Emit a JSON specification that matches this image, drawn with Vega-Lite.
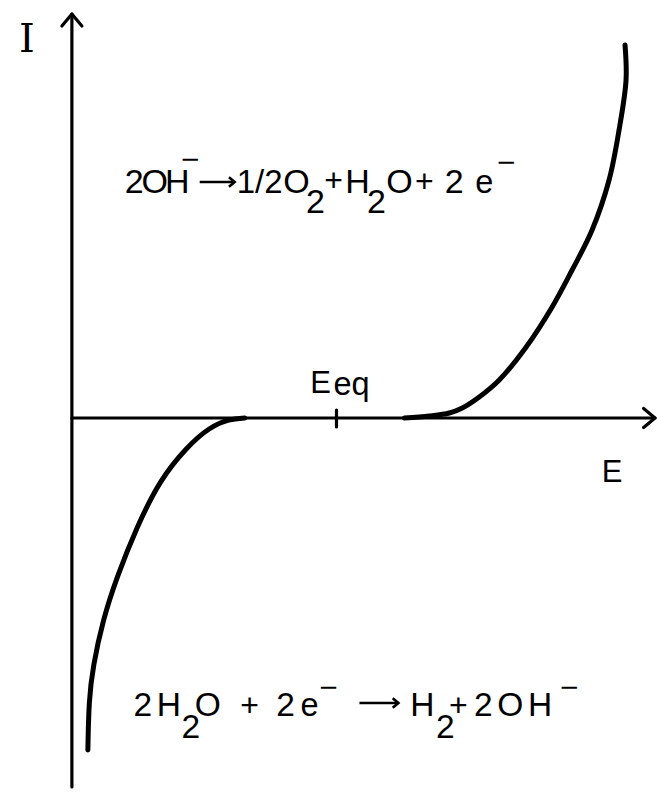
{
  "$schema": "https://vega.github.io/schema/vega-lite/v6.json",
  "width": 657,
  "height": 800,
  "padding": 0,
  "autosize": {"type": "fit", "contains": "padding"},
  "background": "white",
  "config": {"view": {"stroke": null}},
  "datasets": {
    "curve": [
      {"branch": "cathodic", "k": 1, "E": 0.16, "I": -3.32},
      {"branch": "cathodic", "k": 2, "E": 0.17, "I": -2.82},
      {"branch": "cathodic", "k": 3, "E": 0.21, "I": -2.49},
      {"branch": "cathodic", "k": 4, "E": 0.31, "I": -2.02},
      {"branch": "cathodic", "k": 5, "E": 0.45, "I": -1.59},
      {"branch": "cathodic", "k": 6, "E": 0.65, "I": -1.09},
      {"branch": "cathodic", "k": 7, "E": 0.88, "I": -0.62},
      {"branch": "cathodic", "k": 8, "E": 1.15, "I": -0.29},
      {"branch": "cathodic", "k": 9, "E": 1.38, "I": -0.09},
      {"branch": "cathodic", "k": 10, "E": 1.58, "I": -0.01},
      {"branch": "cathodic", "k": 11, "E": 1.73, "I": 0},
      {"branch": "anodic", "k": 1, "E": 3.33, "I": 0},
      {"branch": "anodic", "k": 2, "E": 3.58, "I": 0.02},
      {"branch": "anodic", "k": 3, "E": 3.78, "I": 0.05},
      {"branch": "anodic", "k": 4, "E": 3.91, "I": 0.1},
      {"branch": "anodic", "k": 5, "E": 4.08, "I": 0.21},
      {"branch": "anodic", "k": 6, "E": 4.28, "I": 0.38},
      {"branch": "anodic", "k": 7, "E": 4.55, "I": 0.71},
      {"branch": "anodic", "k": 8, "E": 4.81, "I": 1.11},
      {"branch": "anodic", "k": 9, "E": 5.01, "I": 1.48},
      {"branch": "anodic", "k": 10, "E": 5.21, "I": 1.88},
      {"branch": "anodic", "k": 11, "E": 5.38, "I": 2.38},
      {"branch": "anodic", "k": 12, "E": 5.48, "I": 2.88},
      {"branch": "anodic", "k": 13, "E": 5.55, "I": 3.38},
      {"branch": "anodic", "k": 14, "E": 5.54, "I": 3.73}
    ],
    "lines": [
      {"kind": "axis", "E": 0, "I": -3.69, "E2": 0, "I2": 4.04},
      {"kind": "axis", "E": 0, "I": 0, "E2": 5.84, "I2": 0},
      {"kind": "axis", "E": 2.65, "I": -0.09, "E2": 2.65, "I2": 0.08},
      {"kind": "reaction", "E": 1.28, "I": 2.36, "E2": 1.63, "I2": 2.36},
      {"kind": "reaction", "E": 2.88, "I": -2.85, "E2": 3.27, "I2": -2.85}
    ],
    "heads": [
      {"kind": "I", "E": 0, "I": 4.04},
      {"kind": "E", "E": 5.84, "I": 0},
      {"kind": "reaction", "E": 1.63, "I": 2.36},
      {"kind": "reaction", "E": 3.27, "I": -2.85}
    ],
    "labels": [
      {"t": "2", "E": 0.625, "I": 2.25, "g": "top"},
      {"t": "O", "E": 0.83, "I": 2.25, "g": "top"},
      {"t": "H", "E": 1.055, "I": 2.25, "g": "top"},
      {"t": "−", "E": 1.185, "I": 2.48, "g": "sup"},
      {"t": "1/2", "E": 1.88, "I": 2.25, "g": "frac"},
      {"t": "O", "E": 2.25, "I": 2.25, "g": "top"},
      {"t": "2", "E": 2.44, "I": 2.05, "g": "top"},
      {"t": "+", "E": 2.62, "I": 2.27, "g": "plus"},
      {"t": "H", "E": 2.86, "I": 2.25, "g": "top"},
      {"t": "2", "E": 3.05, "I": 2.05, "g": "top"},
      {"t": "O", "E": 3.28, "I": 2.25, "g": "top"},
      {"t": "+", "E": 3.53, "I": 2.26, "g": "plus"},
      {"t": "2", "E": 3.83, "I": 2.25, "g": "top"},
      {"t": "e", "E": 4.13, "I": 2.25, "g": "lower"},
      {"t": "−", "E": 4.35, "I": 2.45, "g": "sup"},
      {"t": "2", "E": 0.71, "I": -2.98, "g": "bottom"},
      {"t": "H", "E": 0.97, "I": -2.98, "g": "bottom"},
      {"t": "2", "E": 1.19, "I": -3.2, "g": "bottom"},
      {"t": "O", "E": 1.36, "I": -2.98, "g": "bottom"},
      {"t": "+", "E": 1.78, "I": -2.98, "g": "plus"},
      {"t": "2", "E": 2.14, "I": -2.98, "g": "bottom"},
      {"t": "e", "E": 2.38, "I": -2.98, "g": "lower"},
      {"t": "−", "E": 2.57, "I": -2.8, "g": "sup"},
      {"t": "H", "E": 3.51, "I": -2.98, "g": "bottom"},
      {"t": "2", "E": 3.74, "I": -3.2, "g": "bottom"},
      {"t": "+", "E": 3.87, "I": -2.98, "g": "plus"},
      {"t": "2", "E": 4.12, "I": -2.98, "g": "bottom"},
      {"t": "O", "E": 4.39, "I": -2.98, "g": "bottom"},
      {"t": "H", "E": 4.69, "I": -2.98, "g": "bottom"},
      {"t": "−", "E": 4.98, "I": -2.8, "g": "sup"},
      {"t": "E", "E": 5.41, "I": -0.64, "g": "axis"},
      {"t": "E", "E": 2.49, "I": 0.25, "g": "axis"},
      {"t": "eq", "E": 2.8, "I": 0.23, "g": "lower"}
    ],
    "title": [
      {"t": "I", "E": -0.45, "I": 3.66}
    ]
  },
  "encoding": {
    "x": {"field": "E", "type": "quantitative", "axis": null,
          "scale": {"domain": [-0.72, 5.85], "nice": false, "zero": false}},
    "y": {"field": "I", "type": "quantitative", "axis": null,
          "scale": {"domain": [-3.82, 4.18], "nice": false, "zero": false}}
  },
  "layer": [
    {
      "data": {"name": "lines"},
      "transform": [{"filter": "datum.kind === 'axis'"}],
      "mark": {"type": "rule", "color": "black", "strokeWidth": 3.2, "strokeCap": "round"},
      "encoding": {
        "x2": {"field": "E2"},
        "y2": {"field": "I2"}
      }
    },
    {
      "data": {"name": "lines"},
      "transform": [{"filter": "datum.kind === 'reaction'"}],
      "mark": {"type": "rule", "color": "black", "strokeWidth": 2.6},
      "encoding": {
        "x2": {"field": "E2"},
        "y2": {"field": "I2"}
      }
    },
    {
      "data": {"name": "heads"},
      "transform": [{"filter": "datum.kind === 'I'"}],
      "mark": {"type": "point", "shape": "M-1,1.2L0,0L1,1.2", "filled": false,
               "color": "black", "strokeWidth": 3.2, "size": 400, "opacity": 1,
               "strokeCap": "round", "strokeJoin": "round"}
    },
    {
      "data": {"name": "heads"},
      "transform": [{"filter": "datum.kind === 'E'"}],
      "mark": {"type": "point", "shape": "M-1,1.2L0,0L1,1.2", "filled": false,
               "color": "black", "strokeWidth": 3.2, "size": 360, "angle": 90, "opacity": 1,
               "strokeCap": "round", "strokeJoin": "round"}
    },
    {
      "data": {"name": "heads"},
      "transform": [{"filter": "datum.kind === 'reaction'"}],
      "mark": {"type": "point", "shape": "M-1,1.2L0,0L1,1.2", "filled": false,
               "color": "black", "strokeWidth": 2.6, "size": 90, "angle": 90, "opacity": 1,
               "strokeJoin": "miter"}
    },
    {
      "data": {"name": "curve"},
      "transform": [{"filter": "datum.branch === 'cathodic'"}],
      "mark": {"type": "line", "color": "black", "strokeWidth": 5, "interpolate": "basis",
               "strokeCap": "round"},
      "encoding": {
        "order": {"field": "k", "type": "quantitative"}
      }
    },
    {
      "data": {"name": "curve"},
      "transform": [{"filter": "datum.branch === 'anodic'"}],
      "mark": {"type": "line", "color": "black", "strokeWidth": 5, "interpolate": "catmull-rom",
               "strokeCap": "round"},
      "encoding": {
        "order": {"field": "k", "type": "quantitative"}
      }
    },
    {
      "data": {"name": "labels"},
      "mark": {"type": "text", "font": "Liberation Sans", "color": "black",
               "align": "center", "baseline": "alphabetic"},
      "encoding": {
        "text": {"field": "t"},
        "size": {"field": "g", "type": "nominal", "legend": null,
                 "scale": {"domain": ["top", "bottom", "frac", "lower", "plus", "sup", "axis"],
                           "range": [34, 31, 28, 27, 26, 24, 34]}}
      }
    },
    {
      "data": {"name": "title"},
      "mark": {"type": "text", "font": "DejaVu Serif", "fontSize": 40, "color": "black",
               "align": "center", "baseline": "alphabetic"},
      "encoding": {"text": {"field": "t"}}
    }
  ]
}
